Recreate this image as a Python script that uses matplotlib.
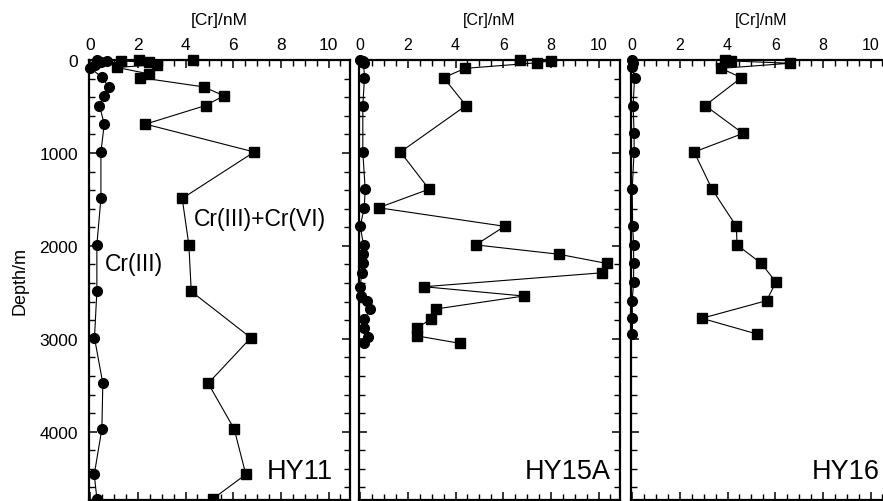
import matplotlib.pyplot as plt
from matplotlib.ticker import MultipleLocator, NullFormatter

plt.rcParams['font.family'] = ['Liberation Sans', 'DejaVu Sans']

# HY11 profile
hy11_tot_depth = [0, 5, 10, 25, 50, 80, 150, 190, 290, 385, 490, 690, 990, 1490,
                  1990, 2490, 2990, 3480, 3970, 4460, 4720]
hy11_tot = [4.32, 2.03, 1.3, 2.48, 2.8, 1.12, 2.48, 2.1, 4.77, 5.61, 4.84, 2.32,
            6.88, 3.86, 4.14, 4.24, 6.74, 4.95, 6.04, 6.53, 5.16]
hy11_cr3_depth = [0, 10, 25, 50, 85, 185, 290, 385, 490, 690, 990, 1490, 1990,
                  2490, 2990, 3480, 3970, 4460, 4720]
hy11_cr3 = [0.28, 0.7, 0.45, 0.2, 0.0, 0.49, 0.77, 0.59, 0.39, 0.59, 0.45, 0.45,
            0.28, 0.28, 0.18, 0.53, 0.49, 0.17, 0.28]

# HY15A profile
hy15a_tot_depth = [0, 10, 30, 90, 190, 490, 990, 1390, 1590, 1790, 1990, 2090,
                   2190, 2290, 2440, 2540, 2680, 2790, 2880, 2970, 3050]
hy15a_tot = [6.7, 7.99, 7.4, 4.4, 3.5, 4.44, 1.69, 2.89, 0.77, 6.06, 4.85, 8.32,
             10.36, 10.15, 2.68, 6.86, 3.17, 2.96, 2.4, 2.4, 4.2]
hy15a_cr3_depth = [0, 10, 30, 190, 490, 990, 1390, 1590, 1790, 1990, 2090, 2190,
                   2290, 2440, 2540, 2590, 2680, 2790, 2880, 2980, 3050]
hy15a_cr3 = [0.0, 0.1, 0.14, 0.18, 0.11, 0.11, 0.21, 0.17, 0.0, 0.14, 0.1, 0.1,
             0.07, 0.0, 0.04, 0.28, 0.42, 0.18, 0.14, 0.32, 0.18]

# HY16 profile
hy16_tot_depth = [0, 10, 35, 90, 190, 490, 790, 990, 1390, 1790, 1990, 2190,
                  2390, 2590, 2780, 2950]
hy16_tot = [3.9, 4.15, 6.62, 3.73, 4.58, 3.06, 4.65, 2.6, 3.35, 4.37, 4.4, 5.42,
            6.03, 5.64, 2.92, 5.25]
hy16_cr3_depth = [0, 35, 75, 190, 490, 790, 990, 1390, 1790, 1990, 2190, 2390,
                  2590, 2780, 2950]
hy16_cr3 = [0.0, 0.05, 0.0, 0.1, 0.04, 0.08, 0.08, 0.0, 0.02, 0.06, 0.06, 0.06,
            0.0, 0.01, 0.01]

stations = ["HY11", "HY15A", "HY16"]
x_ticks = [0, 2, 4, 6, 8, 10]
depth_ticks = [0, 1000, 2000, 3000, 4000]

fig = plt.figure(figsize=(8.83, 5.02), dpi=100)
W, H = 883, 502
top = 502 - 61
bottom = 1.5
lefts = [89, 359, 631]
width = 261

profiles = [
    (hy11_tot_depth, hy11_tot, hy11_cr3_depth, hy11_cr3),
    (hy15a_tot_depth, hy15a_tot, hy15a_cr3_depth, hy15a_cr3),
    (hy16_tot_depth, hy16_tot, hy16_cr3_depth, hy16_cr3),
]
label_x = [10.2, 10.5, 10.38]

for i, (td, tv, cd, cv) in enumerate(profiles):
    ax = fig.add_axes([lefts[i] / W, bottom / H, width / W, (top - bottom) / H])
    ax.plot(tv, td, color='black', lw=0.8, marker='s', ms=7.2, clip_on=False, zorder=3)
    ax.plot(cv, cd, color='black', lw=0.8, marker='o', ms=7, clip_on=False, zorder=3)

    ax.set_xlim(-0.05, 10.9)
    ax.set_ylim(4730, 0)
    ax.xaxis.set_ticks_position('both')
    ax.yaxis.set_ticks_position('both')
    ax.xaxis.set_label_position('top')
    ax.set_xticks(x_ticks)
    ax.xaxis.set_minor_locator(MultipleLocator(0.5))
    ax.set_yticks(depth_ticks)
    ax.yaxis.set_minor_locator(MultipleLocator(200))
    ax.tick_params(which='major', direction='in', length=6, width=1.1,
                   top=True, bottom=True, left=True, right=True,
                   labeltop=True, labelbottom=False)
    ax.tick_params(which='minor', direction='in', length=4, width=1,
                   top=True, bottom=True, left=True, right=True)
    ax.tick_params(axis='x', pad=6)
    ax.tick_params(axis='y', pad=8)
    for s in ax.spines.values():
        s.set_linewidth(1.6)

    if i == 0:
        ax.tick_params(axis='both', labelsize=12.5)
        ax.set_ylabel("Depth/m", fontsize=13, labelpad=8)
        ax.set_xlabel("[Cr]/nM", fontsize=12.5, labelpad=9)
        ax.text(4.33, 1710, "Cr(III)+Cr(VI)", fontsize=16.5, ha='left', va='center')
        ax.text(0.63, 2194, "Cr(III)", fontsize=16.5, ha='left', va='center')
    else:
        ax.tick_params(axis='x', labelsize=11.5)
        ax.yaxis.set_major_formatter(NullFormatter())
        ax.set_xlabel("[Cr]/nM", fontsize=11.5, labelpad=9)

    ax.text(label_x[i], 4420, stations[i], fontsize=19.5, ha='right', va='center')

fig.savefig("out.png", dpi=100)
